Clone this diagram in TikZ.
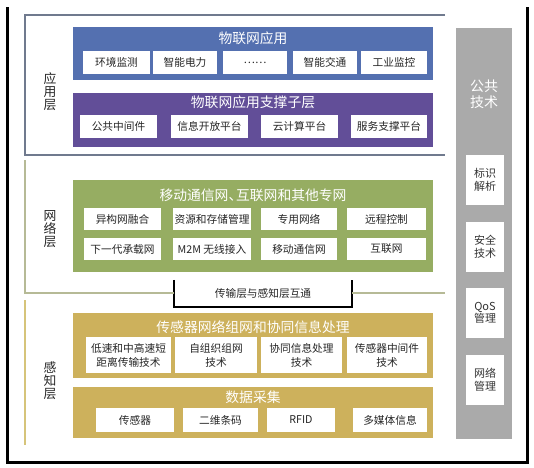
\documentclass[tikz,border=0pt]{standalone}
\usepackage{fontspec}
\setmainfont{Noto Sans CJK SC}
\definecolor{cblue}{RGB}{84,112,176}
\definecolor{cpurple}{RGB}{98,78,152}
\definecolor{cgreen}{RGB}{150,173,98}
\definecolor{cgold}{RGB}{205,177,92}
\definecolor{cgray}{RGB}{170,170,170}
\definecolor{fapp}{RGB}{112,122,142}
\definecolor{fnet}{RGB}{182,186,150}
\definecolor{fsen}{RGB}{214,196,122}
\begin{document}
\begin{tikzpicture}[x=1pt,y=-1pt,
  bigbox/.style={draw=none,inner sep=0,minimum width=360,outer sep=0},
  sm/.style={fill=white,inner sep=0,font=\fontsize{10.7}{14}\selectfont,text=black!85,align=center},
  ttl/.style={text=white,font=\fontsize{13.8}{15}\selectfont,inner sep=0},
  lay/.style={font=\fontsize{12.8}{13}\selectfont,align=center,text=black!85,inner sep=0},
  gw/.style={fill=white,inner sep=0,minimum width=38,minimum height=50,font=\fontsize{11}{12.5}\selectfont,text=black!80,align=center}]
\useasboundingbox (0,0) rectangle (534,467);
% outer frame
\draw[line width=3pt] (7,7) -- (7,462) -- (527,462) -- (527,7);
% layer frames
\draw[fapp,line width=2pt] (445,15) -- (25,15) -- (25,155) -- (445,155);
\node[lay] (lapp) at (50,92) {应\\用\\层};
\node[lay] (lnet) at (50,229) {网\\络\\层};
\node[lay] (lsen) at (50,381) {感\\知\\层};
% application layer
\node[bigbox,fill=cblue,minimum height=53] (appbox) at (253,53.5) {};
\node[ttl] (apptitle) at (253,38) {物联网应用};
\node[sm,minimum width=67,minimum height=23] (a1) at (116.5,62.5) {环境监测};
\node[sm,minimum width=64,minimum height=23] (a2) at (185,62.5) {智能电力};
\node[sm,minimum width=64,minimum height=23] (a3) at (255,62.5) {……};
\node[sm,minimum width=64,minimum height=23] (a4) at (325,62.5) {智能交通};
\node[sm,minimum width=66,minimum height=23] (a5) at (394,62.5) {工业监控};
\node[bigbox,fill=cpurple,minimum height=54] (supbox) at (253,120) {};
\node[ttl] (suptitle) at (253,102) {物联网应用支撑子层};
\node[sm,minimum width=77,minimum height=23] (s1) at (118.5,126.5) {公共中间件};
\node[sm,minimum width=77,minimum height=23] (s2) at (209.5,126.5) {信息开放平台};
\node[sm,minimum width=77,minimum height=23] (s3) at (299.5,126.5) {云计算平台};
\node[sm,minimum width=76,minimum height=23] (s4) at (389,126.5) {服务支撑平台};
% network layer
\node[bigbox,fill=cgreen,minimum height=92] (netbox) at (253,226) {};
\node[ttl] (nettitle) at (253,195) {移动通信网、\kern-0.45em互联网和其他专网};
\node[sm,minimum width=77,minimum height=22] (n1) at (122.5,219) {异构网融合};
\node[sm,minimum width=78,minimum height=22] (n2) at (212,219) {资源和存储管理};
\node[sm,minimum width=76,minimum height=22] (n3) at (299,219) {专用网络};
\node[sm,minimum width=79,minimum height=22] (n4) at (386.5,219) {远程控制};
\node[sm,minimum width=77,minimum height=22] (n5) at (122.5,249) {下一代承载网};
\node[sm,minimum width=78,minimum height=22] (n6) at (212,249) {M2M 无线接入};
\node[sm,minimum width=76,minimum height=22] (n7) at (299,249) {移动通信网};
\node[sm,minimum width=79,minimum height=22] (n8) at (386.5,249) {互联网};
% connection box
\node[inner sep=0,minimum width=178,minimum height=27,font=\fontsize{10.7}{12}\selectfont,text=black!85] (conn) at (263,293.5) {传输层与感知层互通};
\draw[line width=1.8pt] (conn.north west) -- (conn.south west) -- (conn.south east) -- (conn.north east);
\draw[fnet,line width=2pt] (25,160) -- (25,293) -- (conn.west |- 0,293);
\draw[fnet,line width=2pt] (conn.east |- 0,293) -- (445,293);
% perception layer
\draw[fsen,line width=2pt] (25,300) -- (25,445);
\node[bigbox,fill=cgold,minimum height=65] (netsbox) at (253,345.5) {};
\node[ttl] (netstitle) at (253,327) {传感器网络组网和协同信息处理};
\node[sm,minimum width=85,minimum height=36] (p1) at (128.5,355) {低速和中高速短\\距离传输技术};
\node[sm,minimum width=82,minimum height=36] (p2) at (216,355) {自组织组网\\技术};
\node[sm,minimum width=81,minimum height=36] (p3) at (301.5,355) {协同信息处理\\技术};
\node[sm,minimum width=80,minimum height=36] (p4) at (387,355) {传感器中间件\\技术};
\node[bigbox,fill=cgold,minimum height=51] (datbox) at (253,412.5) {};
\node[ttl] (dattitle) at (253,397) {数据采集};
\node[sm,minimum width=78,minimum height=24] (d1) at (135,420) {传感器};
\node[sm,minimum width=75,minimum height=24] (d2) at (220.5,420) {二维条码};
\node[sm,minimum width=68,minimum height=24] (d3) at (301,420) {RFID};
\node[sm,minimum width=74,minimum height=24] (d4) at (390,420) {多媒体信息};
% common technology column
\node[fill=cgray,inner sep=0,minimum width=56,minimum height=411] (col) at (484,233.5) {};
\node[text=white,font=\fontsize{14}{16}\selectfont,align=center,inner sep=0] (coltitle) at (484,94) {公共\\技术};
\node[gw] (g1) at (485,180) {标识\\解析};
\node[gw] (g2) at (485,247) {安全\\技术};
\node[gw] (g3) at (485,313) {QoS\\管理};
\node[gw] (g4) at (485,379.5) {网络\\管理};
\end{tikzpicture}
\end{document}
